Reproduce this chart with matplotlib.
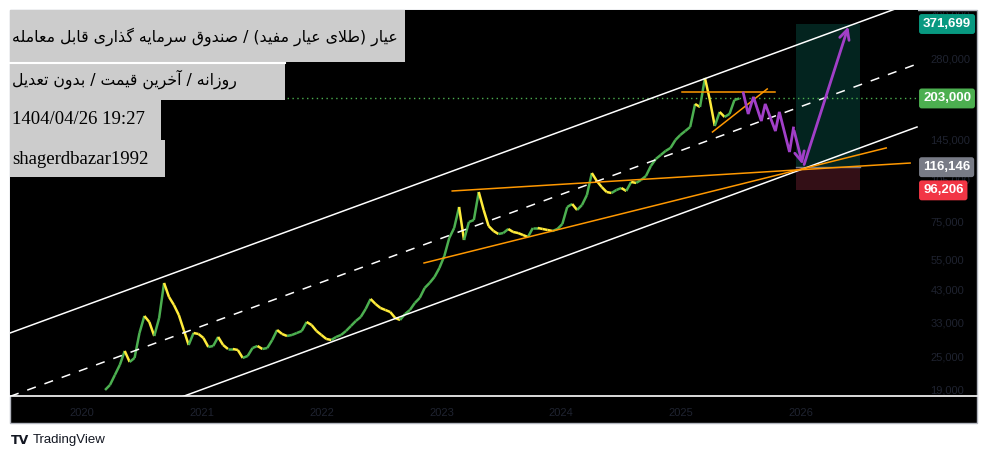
import matplotlib
matplotlib.use("Agg")
import matplotlib.pyplot as plt
import matplotlib.dates as mdates
from matplotlib.patches import Rectangle
from matplotlib.ticker import NullLocator, FixedLocator
from matplotlib.transforms import blended_transform_factory
import pandas as pd

W, H = 988, 459

# --- data --------------------------------------------------------------
# closing prices, one reading every 15 days from 2020-03-11
start_date = "2020-03-11"
closes = [19000, 19790, 21470, 23290, 26090, 23860, 24650, 30190, 34670, 33020,
          29470, 34110, 45330, 40470, 37920, 34950, 30940, 27390, 30190, 29950,
          29000, 26950, 27170, 29240, 27390, 26510, 26510, 26300, 24650, 25050,
          26730, 27170, 26510, 26730, 28530, 30940, 29950, 29470, 29710, 30190,
          30690, 33020, 32220, 30690, 29710, 28760, 28530, 29240, 29710, 30690,
          31960, 33290, 34390, 36700, 39810, 38220, 37000, 36400, 35810, 34110,
          33560, 35230, 36400, 38530, 40140, 43520, 45330, 47600, 51210, 56450,
          65330, 70860, 84060, 64280, 74380, 75600, 94940, 82020, 72030, 69160,
          67490, 68030, 70290, 68590, 68030, 66940, 65870, 70860, 70860, 70290,
          69720, 69160, 70290, 73180, 84050, 86110, 82020, 85420, 92650, 110750,
          103850, 98890, 94940, 94170, 96500, 98080, 95720, 103010, 102180, 104700,
          108100, 117260, 124100, 128210, 132520, 135790, 144900, 150910, 155830, 161000,
          194080, 189420, 239800, 200500, 162300, 181910, 174630, 178980, 200500, 203000]

# log channel (upper / median / lower)
channel_dates = ["2019-05-26", "2026-12-22"]
upper_prices = [30190, 448100]
mid_prices = [18030, 268600]
lower_prices = [10760, 161000]

# orange trend lines
flat_res_dates, flat_res_prices = ["2023-02-03", "2026-12-01"], [95720, 120120]
rising_dates, rising_prices = ["2022-11-09", "2026-09-19"], [53320, 135790]
top_dates, top_prices = ["2025-01-05", "2025-10-16"], [214000, 214000]
tri_dates, tri_prices = ["2025-04-07", "2025-09-21"], [154560, 219270]

# purple forecast path
path_dates = ["2025-07-10", "2025-07-25", "2025-08-10", "2025-09-03", "2025-09-15",
              "2025-10-16", "2025-10-28", "2025-11-28", "2025-12-10", "2026-01-09"]
path_prices = [212240, 178980, 205470, 169020, 194080, 155830, 181910, 131440, 159680, 116146]
target_date, target_price = "2026-05-29", 371699

# long position tool
box_dates = ["2025-12-19", "2026-07-02"]
entry, take_profit, stop_loss = 116146, 371699, 96206
last_price = 203000

yticks = [19000, 25000, 33000, 43000, 55000, 75000, 105000, 145000, 280000, 400000]
years = [2020, 2021, 2022, 2023, 2024, 2025, 2026]

title1 = "عیار (طلای عیار مفید) / صندوق سرمایه گذاری قابل معامله"
title2 = "روزانه / آخرین قیمت / بدون تعدیل"
stamp = "1404/04/26 19:27"
author = "shagerdbazar1992"

# --- minimal arabic shaping (matplotlib has no RTL layout) ---------------
FORMS = {
    "ا": (0xFE8D, 0xFE8E), "آ": (0xFE81, 0xFE82), "د": (0xFEA9, 0xFEAA),
    "ذ": (0xFEAB, 0xFEAC), "ر": (0xFEAD, 0xFEAE), "ز": (0xFEAF, 0xFEB0),
    "و": (0xFEED, 0xFEEE),
    "ب": (0xFE8F, 0xFE90, 0xFE91, 0xFE92), "ت": (0xFE95, 0xFE96, 0xFE97, 0xFE98),
    "خ": (0xFEA5, 0xFEA6, 0xFEA7, 0xFEA8), "س": (0xFEB1, 0xFEB2, 0xFEB3, 0xFEB4),
    "ص": (0xFEB9, 0xFEBA, 0xFEBB, 0xFEBC), "ط": (0xFEC1, 0xFEC2, 0xFEC3, 0xFEC4),
    "ع": (0xFEC9, 0xFECA, 0xFECB, 0xFECC), "ف": (0xFED1, 0xFED2, 0xFED3, 0xFED4),
    "ق": (0xFED5, 0xFED6, 0xFED7, 0xFED8), "ل": (0xFEDD, 0xFEDE, 0xFEDF, 0xFEE0),
    "م": (0xFEE1, 0xFEE2, 0xFEE3, 0xFEE4), "ن": (0xFEE5, 0xFEE6, 0xFEE7, 0xFEE8),
    "ه": (0xFEE9, 0xFEEA, 0xFEEB, 0xFEEC), "ی": (0xFBFC, 0xFBFD, 0xFBFE, 0xFBFF),
    "ي": (0xFBFC, 0xFBFD, 0xFBFE, 0xFBFF), "گ": (0xFB92, 0xFB93, 0xFB94, 0xFB95),
}
LAM_ALEF = {"ا": (0xFEFB, 0xFEFC), "آ": (0xFEF5, 0xFEF6)}


def shape_rtl(text):
    units = []
    i = 0
    while i < len(text):
        ch = text[i]
        if ch == "ل" and i + 1 < len(text) and text[i + 1] in LAM_ALEF:
            units.append(LAM_ALEF[text[i + 1]])
            i += 2
            continue
        units.append(FORMS.get(ch, ch))
        i += 1
    out = []
    for k, u in enumerate(units):
        if isinstance(u, str):
            out.append(u)
            continue
        prev = units[k - 1] if k > 0 else None
        nxt = units[k + 1] if k + 1 < len(units) else None
        join_prev = isinstance(prev, tuple) and len(prev) == 4
        join_next = len(u) == 4 and isinstance(nxt, tuple)
        if join_prev and join_next:
            cp = u[3]
        elif join_prev:
            cp = u[1]
        elif join_next:
            cp = u[2]
        else:
            cp = u[0]
        out.append(chr(cp))
    vis = "".join(reversed(out))
    return vis.translate(str.maketrans("()", ")("))


def fx(x):
    return x / W


def fy(y):
    return 1 - y / H


# --- figure ---------------------------------------------------------------
fig = plt.figure(figsize=(W / 100, H / 100), dpi=100)
fig.patch.set_facecolor("white")
fig.add_artist(Rectangle((fx(10), fy(423)), 967 / W, 413 / H, transform=fig.transFigure,
                         fc="black", ec="#b2b5be", lw=1, zorder=0))

ax = fig.add_axes([fx(10), fy(396), 908 / W, 386 / H])
ax.set_facecolor("black")
ax.set_yscale("log")
ax.set_ylim(18095, 416500)
ax.set_xlim(pd.Timestamp("2019-05-26"), pd.Timestamp("2026-12-25"))
for s in ax.spines.values():
    s.set_visible(False)

tick_font = ["Liberation Sans", "DejaVu Sans"]
tick_col = "#1f2330"
ax.yaxis.tick_right()
ax.yaxis.set_major_locator(FixedLocator(yticks))
ax.yaxis.set_minor_locator(NullLocator())
ax.set_yticklabels([f"{v:,}" for v in yticks], family=tick_font, fontsize=8, color=tick_col)
ax.tick_params(axis="y", length=0, pad=9)
ax.set_xticks([pd.Timestamp(f"{y}-01-01") for y in years])
ax.set_xticklabels([str(y) for y in years], family=tick_font, fontsize=8, color=tick_col)
ax.tick_params(axis="x", length=0, pad=9)

# price series as up/down coloured segments
dates = pd.date_range(start_date, periods=len(closes), freq="15D")
for i in range(1, len(closes)):
    col = "#4caf50" if closes[i] >= closes[i - 1] else "#ffeb3b"
    ax.plot(dates[i - 1:i + 1], closes[i - 1:i + 1], color=col, lw=1.8, solid_capstyle="butt", zorder=3)

cd = pd.to_datetime(channel_dates)
ax.plot(cd, upper_prices, color="white", lw=1.1, zorder=4)
ax.plot(cd, lower_prices, color="white", lw=1.1, zorder=4)
ax.plot(cd, mid_prices, color="white", lw=1.1, ls=(0, (6, 6)), zorder=4)

for d, p in [(flat_res_dates, flat_res_prices), (rising_dates, rising_prices),
             (top_dates, top_prices), (tri_dates, tri_prices)]:
    ax.plot(pd.to_datetime(d), p, color="#ff9800", lw=1.1, zorder=5)

ax.axhline(last_price, color="#4caf50", ls=(0, (1, 2.5)), lw=1, zorder=2)

# position tool boxes
bd = mdates.date2num(pd.to_datetime(box_dates))
ax.add_patch(Rectangle((bd[0], entry), bd[1] - bd[0], take_profit - entry, fc="#03241f", ec="none", zorder=1))
ax.add_patch(Rectangle((bd[0], stop_loss), bd[1] - bd[0], entry - stop_loss, fc="#330f16", ec="none", zorder=1))
ax.plot(pd.to_datetime(box_dates), [entry, entry], color="#787b86", lw=1, zorder=2)

# purple path and arrows
purple = "#a13fc8"
pdts = pd.to_datetime(path_dates)
ax.plot(pdts[:-1], path_prices[:-1], color=purple, lw=2, zorder=6, solid_joinstyle="miter")
ax.annotate("", xy=(pdts[-1], path_prices[-1]), xytext=(pdts[-2], path_prices[-2]),
            arrowprops=dict(arrowstyle="->,head_length=0.7,head_width=0.35", color=purple, lw=2), zorder=6)
ax.annotate("", xy=(pd.Timestamp(target_date), target_price), xytext=(pdts[-1], path_prices[-1]),
            arrowprops=dict(arrowstyle="->,head_length=0.7,head_width=0.35", color=purple, lw=2), zorder=6)

# price labels on the right axis
bt = blended_transform_factory(ax.transAxes, ax.transData)
for val, col in [(take_profit, "#089981"), (last_price, "#4caf50"), (entry, "#787b86"), (stop_loss, "#f23645")]:
    ax.text(1.0 + 5 / 908, val, f"{val:,}", transform=bt, ha="left", va="center", color="white",
            fontsize=9.5, fontweight="bold", family=tick_font, clip_on=False, zorder=10,
            bbox=dict(boxstyle="round,pad=0.3,rounding_size=0.2", fc=col, ec="none"))

# bottom border line of the price pane
fig.add_artist(plt.Line2D([fx(10), fx(977)], [fy(396), fy(396)], transform=fig.transFigure,
                          color="white", lw=1.2, zorder=5))

# title boxes, top left
boxes = [(10, 10, 395, 52), (10, 64, 275, 36), (10, 100, 151, 40), (10, 140, 155, 37)]
for x, y, w, h in boxes:
    fig.add_artist(Rectangle((fx(x), fy(y + h)), w / W, h / H, transform=fig.transFigure,
                             fc="#cccccc", ec="none", zorder=20))
fig.add_artist(plt.Line2D([fx(10), fx(285)], [fy(63), fy(63)], transform=fig.transFigure,
                          color="white", lw=1.5, zorder=20))
fig.text(fx(12), fy(37), shape_rtl(title1), family=["DejaVu Sans"], fontsize=11.3,
         va="center", ha="left", zorder=21)
fig.text(fx(12), fy(79), shape_rtl(title2), family=["DejaVu Sans"], fontsize=11.3,
         va="center", ha="left", zorder=21)
fig.text(fx(12), fy(120), stamp, family=["Liberation Serif"], fontsize=13.5,
         va="center", ha="left", zorder=21)
fig.text(fx(12), fy(159), author, family=["Liberation Serif"], fontsize=13.5,
         va="center", ha="left", zorder=21)

# footer logo
fig.text(fx(11), fy(440), "TV", family=["DejaVu Sans"], fontweight="heavy", fontsize=9,
         va="center", ha="left", color="#131722")
fig.text(fx(33), fy(440), "TradingView", family=tick_font, fontsize=9.5,
         va="center", ha="left", color="#131722")

fig.savefig("out.png", dpi=100, facecolor="white")
